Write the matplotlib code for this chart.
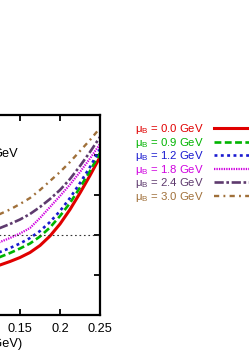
import numpy as np
import matplotlib
matplotlib.use('agg')
import matplotlib.pyplot as plt

plt.rcParams.update({
    "font.family": "sans-serif",
    "font.sans-serif": ["Liberation Sans", "DejaVu Sans"],
    "mathtext.fontset": "custom",
    "mathtext.rm": "Liberation Sans",
    "mathtext.it": "Liberation Sans",
    "mathtext.bf": "Liberation Sans:bold",
})

# temperature (GeV)
T = [0.10, 0.1125, 0.125, 0.1375, 0.15, 0.1625, 0.175,
     0.1875, 0.20, 0.2125, 0.225, 0.2375, 0.25]

# curves for each baryon chemical potential
mu_labels = ["0.0", "0.9", "1.2", "1.8", "2.4", "3.0"]
y_mu00 = [0.22, 0.235, 0.25, 0.2675, 0.2875, 0.3125, 0.3475,
          0.395, 0.455, 0.5275, 0.61, 0.6975, 0.79]
y_mu09 = [0.255, 0.2725, 0.29, 0.31, 0.3325, 0.3575, 0.3925,
          0.4375, 0.495, 0.56, 0.6375, 0.72, 0.81]
y_mu12 = [0.28, 0.2975, 0.315, 0.335, 0.3575, 0.385, 0.42,
          0.465, 0.52, 0.585, 0.66, 0.74, 0.83]
y_mu18 = [0.3275, 0.345, 0.365, 0.385, 0.4075, 0.435, 0.485,
          0.54, 0.595, 0.6525, 0.715, 0.7825, 0.855]
y_mu24 = [0.40, 0.4175, 0.435, 0.455, 0.4775, 0.505, 0.54,
          0.58, 0.625, 0.68, 0.745, 0.815, 0.89]
y_mu30 = [0.465, 0.485, 0.505, 0.5275, 0.555, 0.585, 0.625,
          0.67, 0.715, 0.765, 0.82, 0.875, 0.935]
ref_level = 0.4

xticks = [0, 0.05, 0.1, 0.15, 0.2, 0.25]
xtick_labels = ['0', '0.05', '0.1', '0.15', '0.2', '0.25']
yticks = [0, 0.2, 0.4, 0.6, 0.8, 1.0]
ytick_labels = ['0', '0.2', '0.4', '0.6', '0.8', '1']

curves = [y_mu00, y_mu09, y_mu12, y_mu18, y_mu24, y_mu30]
colors = ['#e00000', '#00b400', '#1a1ad0', '#d000e0', '#5e3a6e', '#a0703a']
styles = ['-', (0, (2.6, 1.3)), (0, (1.1, 1.3)), (0, (0.6, 0.5)),
          (0, (3.5, 1, 1, 1)), (0, (2.2, 1.8, 0.8, 1.8))]
widths = [2.2, 1.9, 1.9, 1.6, 1.9, 1.7]

W, H = 249, 356
fig = plt.figure(figsize=(W / 100, H / 100), dpi=100)
ax = fig.add_axes([-100 / W, 41 / H, 200 / W, 200 / H])

for y, c, ls, lw, m in zip(curves, colors, styles, widths, mu_labels):
    ax.plot(T, y, color=c, linestyle=ls, linewidth=lw,
            label=r'$\mu_\mathrm{B}$ = ' + m + ' GeV')

ax.axhline(ref_level, color='#333333', linestyle=(0, (1.5, 2.5)), linewidth=0.8)

ax.set_xlim(0, 0.25)
ax.set_ylim(0, 1.0)
ax.set_xticks(xticks)
ax.set_xticklabels(xtick_labels)
ax.set_yticks(yticks)
ax.set_yticklabels(ytick_labels)
ax.tick_params(direction='in', top=True, right=True, length=4, width=1.3,
               labelsize=9.2, pad=6)
for s in ax.spines.values():
    s.set_linewidth(1.6)
ax.set_xlabel('T (GeV)', fontsize=9.2, labelpad=2)
ax.text(118 / 200, 0.805, 'GeV', transform=ax.transAxes, ha='right',
        va='center', fontsize=9.2)

leg = ax.legend(loc='upper left', bbox_to_anchor=(135 / W, 1 - 122 / H),
                bbox_transform=fig.transFigure, frameon=False,
                markerfirst=False, fontsize=8.2, handlelength=3.6,
                handletextpad=0.9, labelspacing=-0.04, borderpad=0,
                borderaxespad=0)
for txt, c in zip(leg.get_texts(), colors):
    txt.set_color(c)

fig.savefig('out.png', dpi=100)
